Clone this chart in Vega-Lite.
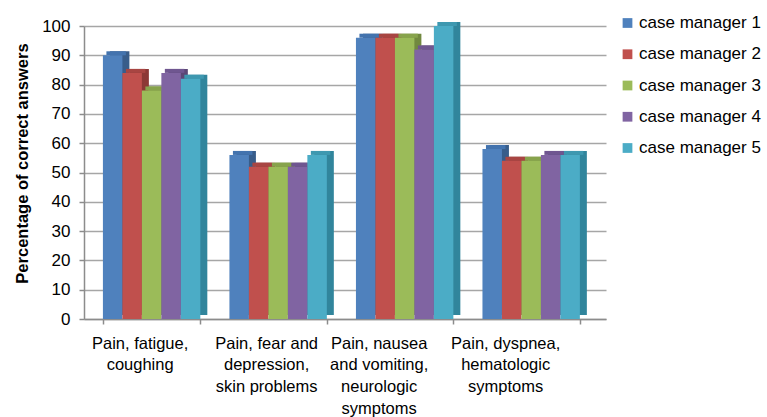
{
  "$schema": "https://vega.github.io/schema/vega-lite/v6.json",
  "width": 522,
  "height": 293,
  "autosize": {"type": "none"},
  "padding": {"left": 84, "top": 26, "right": 161, "bottom": 98},
  "background": "white",
  "config": {"view": {"stroke": null}, "font": "Liberation Sans"},
  "data": {"values": [
    {"topic": "Pain, fatigue, coughing", "manager": "case manager 1", "pct": 90},
    {"topic": "Pain, fatigue, coughing", "manager": "case manager 2", "pct": 84},
    {"topic": "Pain, fatigue, coughing", "manager": "case manager 3", "pct": 78},
    {"topic": "Pain, fatigue, coughing", "manager": "case manager 4", "pct": 84},
    {"topic": "Pain, fatigue, coughing", "manager": "case manager 5", "pct": 82},
    {"topic": "Pain, fear and depression, skin problems", "manager": "case manager 1", "pct": 56},
    {"topic": "Pain, fear and depression, skin problems", "manager": "case manager 2", "pct": 52},
    {"topic": "Pain, fear and depression, skin problems", "manager": "case manager 3", "pct": 52},
    {"topic": "Pain, fear and depression, skin problems", "manager": "case manager 4", "pct": 52},
    {"topic": "Pain, fear and depression, skin problems", "manager": "case manager 5", "pct": 56},
    {"topic": "Pain, nausea and vomiting, neurologic symptoms", "manager": "case manager 1", "pct": 96},
    {"topic": "Pain, nausea and vomiting, neurologic symptoms", "manager": "case manager 2", "pct": 96},
    {"topic": "Pain, nausea and vomiting, neurologic symptoms", "manager": "case manager 3", "pct": 96},
    {"topic": "Pain, nausea and vomiting, neurologic symptoms", "manager": "case manager 4", "pct": 92},
    {"topic": "Pain, nausea and vomiting, neurologic symptoms", "manager": "case manager 5", "pct": 100},
    {"topic": "Pain, dyspnea, hematologic symptoms", "manager": "case manager 1", "pct": 58},
    {"topic": "Pain, dyspnea, hematologic symptoms", "manager": "case manager 2", "pct": 54},
    {"topic": "Pain, dyspnea, hematologic symptoms", "manager": "case manager 3", "pct": 54},
    {"topic": "Pain, dyspnea, hematologic symptoms", "manager": "case manager 4", "pct": 56},
    {"topic": "Pain, dyspnea, hematologic symptoms", "manager": "case manager 5", "pct": 56}
  ]},
  "encoding": {
    "x": {
      "field": "topic", "type": "nominal", "sort": null,
      "scale": {"paddingInner": 0.23, "paddingOuter": 0.178, "align": 0.42},
      "axis": {
        "title": null,
        "labelExpr": "datum.label == 'Pain, fatigue, coughing' ? ['Pain, fatigue,', 'coughing'] : datum.label == 'Pain, fear and depression, skin problems' ? ['Pain, fear and', 'depression,', 'skin problems'] : datum.label == 'Pain, nausea and vomiting, neurologic symptoms' ? ['Pain, nausea', 'and vomiting,', 'neurologic', 'symptoms'] : datum.label == 'Pain, dyspnea, hematologic symptoms' ? ['Pain, dyspnea,', 'hematologic', 'symptoms'] : ''",
        "labelFontSize": 16.5,
        "labelColor": "black",
        "labelAngle": 0,
        "labelBaseline": "top",
        "labelLineHeight": 21.7,
        "labelPadding": 11,
        "labelLimit": 0,
        "labelOffset": {"condition": {"test": "datum.index < 0.5", "value": -12}, "value": -26},
        "tickBand": "extent",
        "tickSize": 5,
        "tickColor": "#8c8c8c",
        "tickWidth": 1.5,
        "domainColor": "#8c8c8c",
        "domainWidth": 1.5
      }
    },
    "y": {
      "field": "pct", "type": "quantitative",
      "scale": {"domain": [0, 100]},
      "axis": {
        "title": "Percentage of correct answers",
        "titleFontSize": 16.5,
        "titleFontWeight": "bold",
        "titleColor": "black",
        "titlePadding": 11,
        "titleY": 137,
        "values": [0, 10, 20, 30, 40, 50, 60, 70, 80, 90, 100],
        "labelFontSize": 17,
        "labelColor": "black",
        "labelPadding": 9,
        "tickSize": 5,
        "tickColor": "#8c8c8c",
        "tickWidth": 1.5,
        "domainColor": "#8c8c8c",
        "domainWidth": 1.5,
        "gridColor": "#a6a6a6",
        "gridWidth": 1.5
      }
    }
  },
  "layer": [
    {
      "mark": {"type": "bar", "yOffset": -4},
      "encoding": {
        "xOffset": {"field": "manager", "type": "nominal", "sort": null, "scale": {"range": [7, 104.4]}},
        "color": {
          "field": "manager", "type": "nominal", "sort": null,
          "scale": {"range": ["#385D8A", "#8C3836", "#71893F", "#5C4776", "#31859C"]},
          "legend": null
        }
      }
    },
    {
      "mark": {"type": "tick", "thickness": 4, "yOffset": -2, "size": 19.5, "opacity": 1},
      "encoding": {
        "xOffset": {"field": "manager", "type": "nominal", "sort": null, "scale": {"range": [3.5, 100.9]}},
        "color": {
          "field": "manager", "type": "nominal", "sort": null,
          "scale": {"range": ["#4373AE", "#A84542", "#87A34C", "#6F5690", "#3E98B0"]},
          "legend": null
        }
      }
    },
    {
      "mark": {"type": "bar"},
      "encoding": {
        "xOffset": {"field": "manager", "type": "nominal", "sort": null},
        "color": {
          "field": "manager", "type": "nominal", "sort": null,
          "scale": {"range": ["#4F81BD", "#C0504D", "#9BBB59", "#8064A2", "#4BACC6"]},
          "legend": {
            "title": null,
            "orient": "none",
            "legendX": 535,
            "legendY": -11.5,
            "symbolType": "square",
            "symbolSize": 95,
            "symbolStrokeWidth": 0,
            "labelFontSize": 17,
            "labelColor": "black",
            "rowPadding": 13.25,
            "labelOffset": 3,
            "padding": 0
          }
        }
      }
    }
  ],
  "resolve": {"scale": {"color": "independent", "xOffset": "independent"}}
}
